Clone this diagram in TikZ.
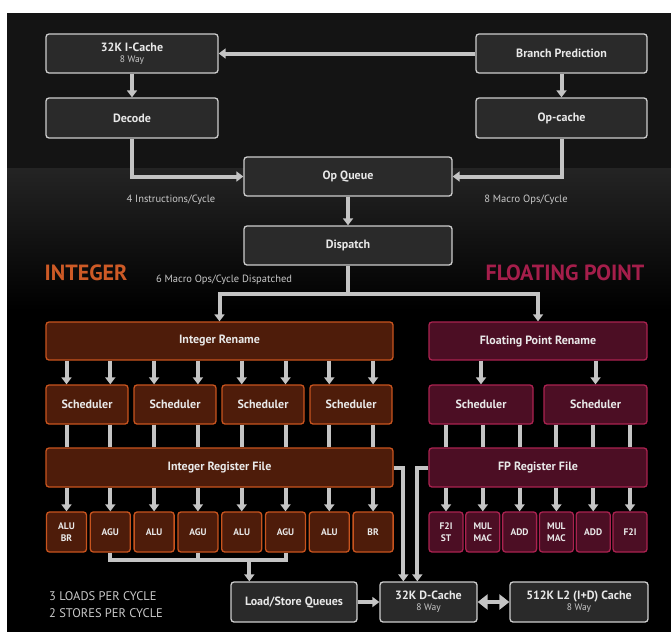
\documentclass[tikz,border=0pt]{standalone}
\usepackage{fontspec}
\setmainfont{PT Sans}
\usepackage{tikz}
\usetikzlibrary{positioning, arrows.meta}
\definecolor{BoxFill}{RGB}{42,42,42}
\definecolor{BoxEdge}{RGB}{205,205,205}
\definecolor{IntFill}{RGB}{78,28,10}
\definecolor{IntEdge}{RGB}{200,84,30}
\definecolor{IntHead}{RGB}{205,90,38}
\definecolor{FPFill}{RGB}{76,14,36}
\definecolor{FPEdge}{RGB}{170,34,80}
\definecolor{FPHead}{RGB}{165,30,75}
\definecolor{WireGray}{RGB}{196,196,196}
\definecolor{LabelWhite}{RGB}{232,232,232}
\definecolor{NoteGray}{RGB}{200,200,200}
\definecolor{TopGray}{RGB}{20,20,20}
\definecolor{MidGray}{RGB}{36,36,36}
\newcommand{\waytxt}{\mdseries\fontsize{9.5}{11}\selectfont\color{NoteGray}}

\begin{document}
\begin{tikzpicture}[x=1pt, y=-1pt,
    >={Triangle[width=10pt,length=7pt]},
    box/.style={draw=BoxEdge, fill=BoxFill, line width=1.3pt, rounded corners=3pt,
                inner sep=0pt, align=center, text=LabelWhite,
                font=\bfseries\fontsize{12}{13}\selectfont},
    intbox/.style={box, draw=IntEdge, fill=IntFill},
    fpbox/.style={box, draw=FPEdge, fill=FPFill},
    unit/.style={font=\bfseries\fontsize{9.5}{11.5}\selectfont,
                 minimum width=40, minimum height=40},
    wire/.style={draw=WireGray, line width=4pt},
    note/.style={text=NoteGray, font=\fontsize{10.5}{12}\selectfont},
    heading/.style={font=\bfseries\fontsize{22}{24}\selectfont}]
  \useasboundingbox (0,0) rectangle (671,632);
  % backdrop
  \fill[black] (7,13) rectangle (671,632);
  \fill[TopGray] (7,13) rectangle (671,168);
  \shade[top color=MidGray, bottom color=black] (7,168) rectangle (671,310);

  % front end
  \node[box, minimum width=172, minimum height=39] (ic) at (132,53.5)
        {32K I-Cache\\[-2pt]{\waytxt 8 Way}};
  \node[box, minimum width=171, minimum height=39] (bp) at (561.5,53.5)
        {Branch Prediction};
  \node[box, minimum width=172, minimum height=40] (dec) at (132,118) {Decode};
  \node[box, minimum width=171, minimum height=40] (opc) at (561.5,118) {Op-cache};
  \node[box, minimum width=208, minimum height=39] (opq) at (348,176.5) {Op Queue};
  \node[box, minimum width=208, minimum height=39] (disp) at (348,245.5) {Dispatch};
  \coordinate[below=28pt of disp.south] (fork);

  \node[note] (insn) at (171,200) {4 Instructions/Cycle};
  \node[note] (mops) at (526,200) {8 Macro Ops/Cycle};
  \node[note] (disprate) at (224,280) {6 Macro Ops/Cycle Dispatched};
  \node[heading, text=IntHead] (inthead) at (86,273) {INTEGER};
  \node[heading, text=FPHead] (fphead) at (565,273) {FLOATING POINT};

  % integer side
  \node[intbox, minimum width=347, minimum height=38] (intren) at (219.5,341)
        {Integer Rename};
  \foreach \j in {1,...,4}
    \node[intbox, minimum width=82, minimum height=39] (sch\j)
          at ({87+(\j-1)*88},404.5) {Scheduler};
  \node[intbox, minimum width=347, minimum height=39] (irf) at (219.5,467.5)
        {Integer Register File};
  \foreach \i/\lab in {1/{ALU\\BR},2/AGU,3/ALU,4/AGU,5/ALU,6/AGU,7/ALU,8/BR}
    \node[intbox, unit] (iu\i) at ({66.5+(\i-1)*43.8},532) {\lab};

  % floating point side
  \node[fpbox, minimum width=218, minimum height=38] (fpren) at (538,341)
        {Floating Point Rename};
  \node[fpbox, minimum width=104, minimum height=39] (fsch1) at (481,404.5) {Scheduler};
  \node[fpbox, minimum width=103, minimum height=39] (fsch2) at (595.5,404.5) {Scheduler};
  \node[fpbox, minimum width=218, minimum height=39] (fprf) at (538,467.5)
        {FP Register File};
  \foreach \i/\lab in {1/{F2I\\ST},2/{MUL\\MAC},3/ADD,4/{MUL\\MAC},5/ADD,6/F2I}
    \node[fpbox, unit, minimum width=34] (fu\i) at ({446+(\i-1)*36.8},532) {\lab};

  % memory
  \node[box, minimum width=126, minimum height=40] (lsq) at (294,602)
        {Load/Store Queues};
  \node[box, minimum width=97, minimum height=40] (dc) at (428.5,602)
        {32K D-Cache\\[-2pt]{\waytxt 8 Way}};
  \node[box, minimum width=138, minimum height=40] (l2) at (579,602)
        {512K L2 (I+D) Cache\\[-2pt]{\waytxt 8 Way}};
  \node[anchor=west, inner sep=0pt, align=left, text=NoteGray,
        font=\fontsize{12.5}{17}\selectfont] (ldst) at (49,604.5)
        {3 LOADS PER CYCLE\\2 STORES PER CYCLE};
  \coordinate[below=7pt of iu2.south] (agubus);
  \coordinate (lsqin) at ([xshift=19pt]lsq.north west);

  % fetch and decode flow
  \draw[wire,->] (bp.west) -- (ic.east);
  \draw[wire,->] (ic.south) -- (dec.north);
  \draw[wire,->] (bp.south) -- (opc.north);
  \draw[wire,->] (dec.south) |- (opq.west);
  \draw[wire,->] (opc.south) |- (opq.east);
  \draw[wire,->] (opq.south) -- (disp.north);
  \draw[wire] (disp.south) -- (fork);
  \draw[wire,->] (fork) -| (intren.north);
  \draw[wire,->] (fork) -| (fpren.north);

  % integer pipes
  \foreach \i/\j in {1/1,2/1,3/2,4/2,5/3,6/3,7/4,8/4} {
    \draw[wire,->] (intren.south -| iu\i) -- (sch\j.north -| iu\i);
    \draw[wire] (sch\j.south -| iu\i) -- (irf.north -| iu\i);
    \draw[wire,->] (irf.south -| iu\i) -- (iu\i.north);
  }
  % fp pipes
  \foreach \j in {1,2}
    \draw[wire,->] (fpren.south -| fsch\j) -- (fsch\j.north);
  \foreach \i/\j in {1/1,2/1,3/1,4/2,5/2,6/2} {
    \draw[wire] (fsch\j.south -| fu\i) -- (fprf.north -| fu\i);
    \draw[wire,->] (fprf.south -| fu\i) -- (fu\i.north);
  }

  % load/store
  \draw[wire] (iu2.south) |- (agubus -| iu6) -- (iu6.south);
  \draw[wire] (iu4.south) -- (iu4.south |- agubus);
  \draw[wire,->] (lsqin |- agubus) -- (lsqin);
  \draw[wire,->] (lsq.east) -- (dc.west);
  \draw[wire,->] (irf.east) -| ([xshift=24pt]dc.north west);
  \draw[wire,->] (fprf.west) -| ([xshift=38pt]dc.north west);
  \draw[wire,{Triangle[width=15pt,length=10pt]}-{Triangle[width=15pt,length=10pt]}]
        (dc.east) -- (l2.west);
\end{tikzpicture}
\end{document}
